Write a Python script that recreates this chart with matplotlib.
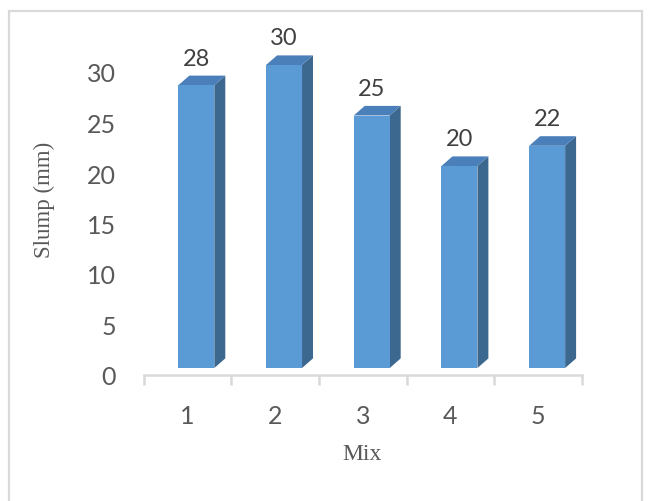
import matplotlib
matplotlib.use("Agg")
import matplotlib.pyplot as plt
from matplotlib.patches import Rectangle, Polygon
from matplotlib.transforms import ScaledTranslation

# Data
mixes = ["1", "2", "3", "4", "5"]
slump = [28, 30, 25, 20, 22]
y_ticks = [0, 5, 10, 15, 20, 25, 30]

# Styling
front_col = "#5B9BD5"
top_col = "#4B7FB9"
side_col = "#3C678F"
axis_col = "#D9D9D9"
tick_col = "#595959"
label_col = "#404040"
bar_w = 0.41
depth_x = 0.125
depth_y = 0.95

W, H, DPI = 650, 502, 100
fig = plt.figure(figsize=(W / DPI, H / DPI), dpi=DPI)
fig.patch.set_facecolor("white")

# chart frame
fig.patches.append(Rectangle((8.5 / W, -0.02), (642 - 8.5) / W, (H - 11.5) / H + 0.02,
                             transform=fig.transFigure, fill=False,
                             edgecolor=axis_col, linewidth=1.6, zorder=0))

ax_l, ax_r = 143.5, 582.0
ax_b, ax_t = 376.0, 22.5
ax = fig.add_axes([ax_l / W, (H - ax_b) / H, (ax_r - ax_l) / W, (ax_b - ax_t) / H])
ax.set_xlim(0.5, len(mixes) + 0.5)
ax.set_ylim(0, 35)
ax.patch.set_alpha(0)

# the 3D columns sit slightly up and to the right of the category grid
shift = ax.transData + ScaledTranslation(9 / DPI, 7 / DPI, fig.dpi_scale_trans)

xs = list(range(1, len(mixes) + 1))
for x, v in zip(xs, slump):
    x0, x1 = x - bar_w / 2, x + bar_w / 2
    side = Polygon([(x1, 0), (x1 + depth_x, depth_y), (x1 + depth_x, v + depth_y), (x1, v)],
                   closed=True, facecolor=side_col, edgecolor="none", transform=shift)
    top = Polygon([(x0, v), (x0 + depth_x, v + depth_y), (x1 + depth_x, v + depth_y), (x1, v)],
                  closed=True, facecolor=top_col, edgecolor="none", transform=shift)
    front = Rectangle((x0, 0), bar_w, v, facecolor=front_col, edgecolor="none", transform=shift)
    for p in (side, top, front):
        ax.add_patch(p)
    ax.annotate(str(v), xy=(x, v + depth_y), xycoords=shift,
                xytext=(0, 5), textcoords="offset points",
                ha="center", va="bottom", fontsize=17, color=label_col,
                family=["Lato", "DejaVu Sans"])

# axes
for s in ("top", "right", "left"):
    ax.spines[s].set_visible(False)
ax.spines["bottom"].set_color(axis_col)
ax.spines["bottom"].set_linewidth(1.8)

ax.set_xticks(xs)
ax.set_xticklabels(mixes)
ax.set_xticks([x + 0.5 for x in [0] + xs], minor=True)
ax.tick_params(axis="x", which="major", length=0, pad=21, labelsize=18, labelcolor=tick_col)
ax.tick_params(axis="x", which="minor", length=7.5, width=1.8, color=axis_col)
ax.set_yticks(y_ticks)
ax.tick_params(axis="y", length=0, pad=20, labelsize=18, labelcolor=tick_col)
for lab in ax.get_xticklabels() + ax.get_yticklabels():
    lab.set_family(["Lato", "DejaVu Sans"])

fig.text(44 / W, 1 - 200 / H, "Slump (mm)", rotation=90, ha="center", va="center",
         fontsize=16.5, color=tick_col, family=["Liberation Serif", "DejaVu Serif"])
fig.text(362 / W, 1 - 455 / H, "Mix", ha="center", va="center",
         fontsize=17, color=tick_col, family=["Liberation Serif", "DejaVu Serif"])

fig.savefig("out.png", dpi=DPI)
